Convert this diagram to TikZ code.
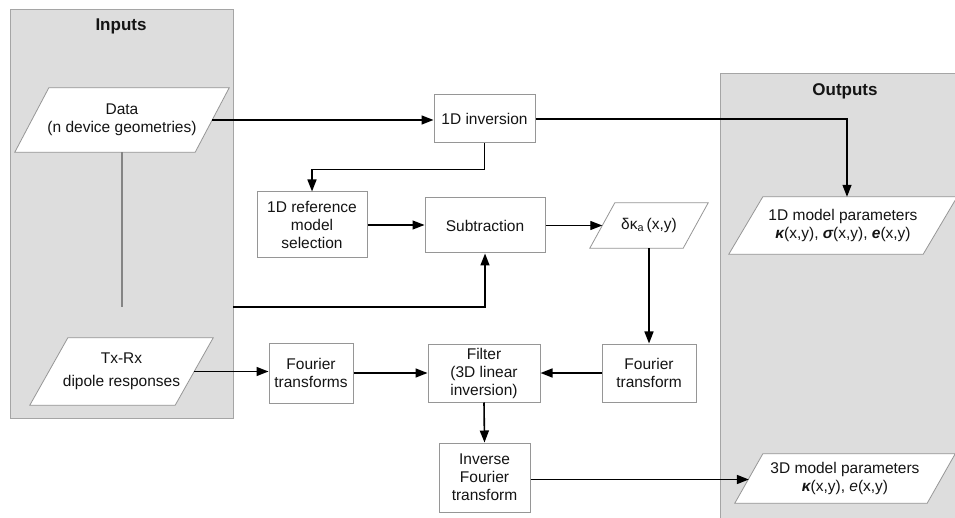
\documentclass[tikz,border=0pt]{standalone}
\usepackage{fontspec}
\setmainfont{Liberation Sans}
\usetikzlibrary{arrows.meta}
\pgfdeclarelayer{bg}\pgfdeclarelayer{mid}\pgfsetlayers{bg,mid,main}
\definecolor{panel}{RGB}{221,221,221}
\definecolor{panelline}{RGB}{165,165,165}
\definecolor{boxline}{RGB}{150,150,150}
\definecolor{txt}{RGB}{20,20,20}
\newcommand\mypara[2]{\begin{pgfonlayer}{mid}\draw[parashp] ([xshift=#2]#1.north west) -- ([xshift=#2]#1.north east) -- ([xshift=-#2]#1.south east) -- ([xshift=-#2]#1.south west) -- cycle;\end{pgfonlayer}}
\newcommand\bi[1]{{\bfseries\itshape #1}}
\begin{document}
\begin{tikzpicture}[x=1pt,y=-1pt,
  font=\fontsize{15.5}{18}\selectfont, text=txt,
  box/.style={draw=boxline, fill=white, line width=1pt, align=center, inner sep=0pt},
  para/.style={inner sep=0pt, align=center},
  parashp/.style={draw=boxline, fill=white, line width=0.8pt},
  panelbox/.style={draw=panelline, fill=panel, line width=1pt},
  head/.style={font=\fontsize{17}{20}\selectfont\bfseries},
  conn/.style={line width=1.6pt, -{Triangle[length=12pt,width=9pt]}},
  plain/.style={line width=1.6pt}]
\useasboundingbox (0,0) rectangle (955,518);
% panels
\begin{pgfonlayer}{bg}
\draw[panelbox] (10,10) rectangle (233,418);
\draw[panelbox] (720,74) rectangle (960,525);
\end{pgfonlayer}
\node[head] (inlab) at (121,26) {Inputs};
\node[head] (outlab) at (845,91) {Outputs};
% parallelogram nodes
\node[para, minimum width=180, minimum height=64] (data) at (122,120) {Data\\(n device geometries)};
\mypara{data}{17}
\node[para, minimum width=145, minimum height=67] (txrx) at (121.5,371.5) {Tx-Rx\\[5pt]dipole responses};
\mypara{txrx}{19}
\node[para, minimum width=93, minimum height=45] (dk) at (649,225.5) {δκ\textsubscript{a}\,(x,y)};
\mypara{dk}{12.5}
\node[para, minimum width=194, minimum height=57] (m1) at (843,225.5) {1D model parameters\\\bi{κ}(x,y), \bi{σ}(x,y), \bi{e}(x,y)};
\mypara{m1}{17}
\node[para, minimum width=192, minimum height=49] (m3) at (845,478.5) {3D model parameters\\\bi{κ}(x,y), \textit{e}(x,y)};
\mypara{m3}{14}
% boxes
\node[box, minimum width=101, minimum height=48] (inv) at (484.5,119) {1D inversion};
\node[box, minimum width=110, minimum height=66] (ref) at (312,225) {1D reference\\model\\selection};
\node[box, minimum width=120, minimum height=55] (sub) at (485,225.5) {Subtraction};
\node[box, minimum width=94, minimum height=58] (ft) at (649,373) {Fourier\\transform};
\node[box, minimum width=112, minimum height=58] (filt) at (484,373) {Filter\\(3D linear\\inversion)};
\node[box, minimum width=84, minimum height=60] (fts) at (311,373) {Fourier\\transforms};
\node[box, minimum width=91, minimum height=69] (ift) at (484.5,477.5) {Inverse\\Fourier\\transform};
% connectors
\coordinate (c2) at (233,307);
\draw[line width=1.2pt, draw=panelline!80!black] (data.south) -- (data.south |- c2);
\draw[conn] (data.east) -- (data.east -| inv.west);
\draw[conn] (inv.south) -- ++(0,26) -| (ref.north);
\draw[conn, line width=1.2pt] (inv.east) -| ([xshift=4pt]m1.north);
\draw[conn, line width=1.2pt] (ref.east) -- (ref.east -| sub.west);
\draw[conn] (c2) -| (sub.south);
\draw[conn, line width=1.2pt] (sub.east) -- (sub.east -| dk.west);
\draw[conn] (dk.south) -- (ft.north);
\draw[conn] (ft.west) -- (ft.west -| filt.east);
\draw[conn] (txrx.east) -- (txrx.east -| fts.west);
\draw[conn] (fts.east) -- (fts.east -| filt.west);
\draw[conn] (filt.south) -- (ift.north);
\draw[conn] ([yshift=-2pt]ift.east) -- ([yshift=-2pt]ift.east -| m3.west);
\end{tikzpicture}
\end{document}
